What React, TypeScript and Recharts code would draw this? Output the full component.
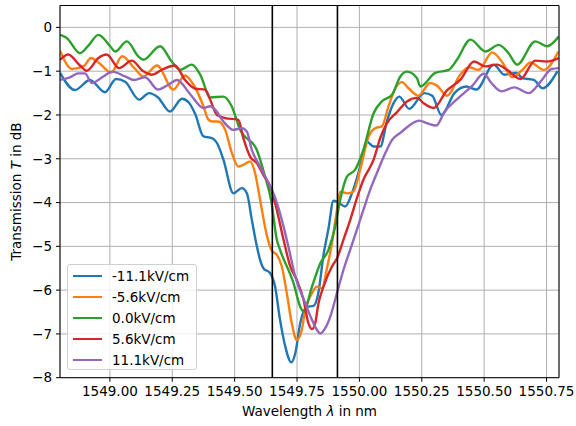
import React from "react"
import {
  LineChart,
  Line,
  XAxis,
  YAxis,
  CartesianGrid,
  ReferenceLine,
  Label,
} from "recharts"

// [wavelength nm, transmission dB]
const fieldNeg111: [number, number][] = [
  [1548.8, -1.04], [1548.86, -1.43], [1548.92, -1.2], [1548.98, -1.48], [1549.025, -1.18],
  [1549.061, -1.24], [1549.117, -1.65], [1549.157, -1.5], [1549.193, -1.6], [1549.241, -1.92],
  [1549.289, -1.63], [1549.317, -1.72], [1549.342, -1.98], [1549.375, -2.49], [1549.409, -2.53],
  [1549.429, -2.64], [1549.455, -3.02], [1549.495, -3.79], [1549.529, -3.67], [1549.549, -3.79],
  [1549.569, -4.4], [1549.589, -5.0], [1549.602, -5.31], [1549.615, -5.5], [1549.642, -5.61],
  [1549.662, -5.92], [1549.682, -6.68], [1549.703, -7.29], [1549.727, -7.65], [1549.743, -7.44],
  [1549.763, -6.75], [1549.79, -6.38], [1549.816, -6.36], [1549.836, -6.05], [1549.856, -5.2],
  [1549.876, -4.6], [1549.896, -3.96], [1549.916, -4.0], [1549.943, -4.09], [1549.97, -3.79],
  [1550.003, -3.18], [1550.03, -2.61], [1550.057, -2.72], [1550.084, -2.72], [1550.11, -2.15],
  [1550.137, -1.73], [1550.16, -1.58], [1550.2, -1.86], [1550.26, -1.5], [1550.292, -1.56],
  [1550.328, -2.0], [1550.381, -1.5], [1550.429, -1.35], [1550.469, -1.42], [1550.538, -0.85],
  [1550.581, -1.08], [1550.629, -1.04], [1550.653, -1.16], [1550.699, -1.2], [1550.734, -1.39],
  [1550.794, -1.0],
]

const fieldNeg56: [number, number][] = [
  [1548.8, -0.53], [1548.848, -0.95], [1548.896, -0.88], [1548.924, -0.7], [1548.954, -0.8],
  [1549.005, -1.03], [1549.049, -0.66], [1549.101, -0.95], [1549.134, -1.12], [1549.189, -0.87],
  [1549.254, -1.42], [1549.301, -1.1], [1549.335, -1.31], [1549.375, -1.8], [1549.394, -2.1],
  [1549.41, -2.15], [1549.435, -2.15], [1549.462, -2.34], [1549.489, -2.87], [1549.515, -3.18],
  [1549.535, -3.14], [1549.562, -3.06], [1549.582, -3.33], [1549.602, -3.94], [1549.629, -4.75],
  [1549.649, -5.1], [1549.67, -5.2], [1549.689, -5.46], [1549.709, -6.07], [1549.729, -6.76],
  [1549.749, -7.14], [1549.769, -6.91], [1549.783, -6.45], [1549.81, -6.07], [1549.83, -5.92],
  [1549.85, -5.96], [1549.87, -5.5], [1549.89, -4.93], [1549.91, -4.17], [1549.923, -3.75],
  [1549.95, -3.79], [1549.976, -3.75], [1550.003, -3.25], [1550.037, -2.49], [1550.064, -2.3],
  [1550.09, -2.26], [1550.117, -1.8], [1550.144, -1.39], [1550.171, -1.25], [1550.197, -1.39],
  [1550.236, -1.56], [1550.284, -1.27], [1550.311, -1.33], [1550.351, -1.56], [1550.404, -1.08],
  [1550.44, -0.91], [1550.477, -0.97], [1550.533, -0.57], [1550.573, -0.8], [1550.613, -1.14],
  [1550.653, -0.97], [1550.685, -0.8], [1550.739, -0.97], [1550.798, -0.55],
]

const fieldZero: [number, number][] = [
  [1548.8, -0.17], [1548.827, -0.24], [1548.88, -0.59], [1548.912, -0.43], [1548.954, -0.17],
  [1549.001, -0.43], [1549.021, -0.55], [1549.068, -0.32], [1549.114, -0.66], [1549.134, -0.74],
  [1549.201, -0.43], [1549.248, -0.78], [1549.281, -0.97], [1549.328, -0.85], [1549.362, -1.08],
  [1549.402, -1.6], [1549.455, -1.58], [1549.488, -1.8], [1549.522, -2.34], [1549.589, -2.8],
  [1549.622, -3.41], [1549.646, -3.94], [1549.669, -4.85], [1549.682, -5.08], [1549.736, -5.84],
  [1549.763, -6.38], [1549.776, -6.49], [1549.81, -5.92], [1549.843, -5.39], [1549.876, -5.08],
  [1549.903, -4.55], [1549.923, -3.94], [1549.95, -3.41], [1549.983, -3.25], [1550.016, -2.8],
  [1550.057, -1.96], [1550.09, -1.69], [1550.131, -1.54], [1550.164, -1.12], [1550.191, -1.01],
  [1550.231, -1.16], [1550.244, -1.35], [1550.304, -1.04], [1550.358, -0.97], [1550.391, -0.74],
  [1550.445, -0.28], [1550.505, -0.55], [1550.558, -0.4], [1550.598, -0.59], [1550.632, -0.85],
  [1550.705, -0.32], [1550.752, -0.43], [1550.799, -0.21],
]

const fieldPos56: [number, number][] = [
  [1548.8, -0.74], [1548.833, -0.62], [1548.88, -0.87], [1548.907, -0.99], [1548.954, -0.7],
  [1548.987, -0.62], [1549.037, -0.93], [1549.088, -0.76], [1549.131, -0.99], [1549.169, -1.08],
  [1549.214, -0.95], [1549.261, -0.87], [1549.301, -1.2], [1549.342, -1.4], [1549.382, -1.42],
  [1549.402, -1.65], [1549.429, -2.0], [1549.462, -2.07], [1549.515, -2.11], [1549.535, -2.53],
  [1549.562, -2.95], [1549.589, -3.1], [1549.615, -3.37], [1549.642, -3.63], [1549.666, -4.1],
  [1549.696, -4.85], [1549.723, -5.46], [1549.749, -5.77], [1549.776, -6.22], [1549.796, -6.76],
  [1549.81, -6.89], [1549.823, -6.75], [1549.836, -6.3], [1549.856, -5.92], [1549.89, -5.46],
  [1549.91, -5.28], [1549.936, -4.85], [1549.963, -4.4], [1549.99, -3.9], [1550.016, -3.48],
  [1550.057, -3.02], [1550.084, -2.52], [1550.11, -2.19], [1550.15, -1.94], [1550.191, -1.69],
  [1550.231, -1.61], [1550.257, -1.73], [1550.297, -1.84], [1550.351, -1.44], [1550.404, -1.2],
  [1550.46, -0.78], [1550.505, -0.89], [1550.552, -0.85], [1550.592, -0.97], [1550.645, -1.18],
  [1550.705, -0.76], [1550.752, -0.78], [1550.799, -0.7],
]

const fieldPos111: [number, number][] = [
  [1548.8, -1.2], [1548.84, -1.14], [1548.873, -1.05], [1548.9, -1.05], [1548.928, -1.27],
  [1548.974, -1.12], [1549.009, -1.01], [1549.061, -1.12], [1549.097, -1.2], [1549.141, -1.14],
  [1549.193, -1.42], [1549.234, -1.31], [1549.269, -1.2], [1549.321, -1.52], [1549.375, -1.84],
  [1549.402, -1.8], [1549.422, -1.88], [1549.455, -2.15], [1549.495, -2.34], [1549.529, -2.3],
  [1549.549, -2.38], [1549.569, -2.8], [1549.602, -3.18], [1549.629, -3.48], [1549.649, -3.71],
  [1549.669, -4.0], [1549.696, -4.55], [1549.715, -5.0], [1549.743, -5.69], [1549.783, -6.3],
  [1549.81, -6.68], [1549.83, -6.91], [1549.843, -6.99], [1549.863, -6.87], [1549.883, -6.61],
  [1549.91, -6.07], [1549.936, -5.54], [1549.963, -5.08], [1549.991, -4.6], [1550.016, -4.17],
  [1550.043, -3.71], [1550.07, -3.33], [1550.104, -2.87], [1550.131, -2.57], [1550.164, -2.41],
  [1550.2, -2.24], [1550.24, -2.13], [1550.272, -2.19], [1550.308, -2.24], [1550.341, -1.93],
  [1550.393, -1.63], [1550.453, -1.33], [1550.498, -1.06], [1550.529, -1.27], [1550.569, -1.46],
  [1550.621, -1.37], [1550.679, -1.5], [1550.726, -1.24], [1550.77, -0.95], [1550.799, -0.93],
]

const seriesNames = ["-11.1kV/cm", "-5.6kV/cm", "0.0kV/cm", "5.6kV/cm", "11.1kV/cm"]
const seriesColors = ["#1f77b4", "#ff7f0e", "#2ca02c", "#d62728", "#9467bd"]
const seriesData = [fieldNeg111, fieldNeg56, fieldZero, fieldPos56, fieldPos111]

const xTicks = [1549, 1549.25, 1549.5, 1549.75, 1550, 1550.25, 1550.5, 1550.75]
const yTicks = [-8, -7, -6, -5, -4, -3, -2, -1, 0]
const markerLines = [1549.651, 1549.912]

const FONT = "DejaVu Sans, sans-serif"

const fmtY = (v: number) => (v < 0 ? "\u2212" + Math.abs(v) : String(v))

export default function App() {
  return (
    <div style={{ position: "absolute", left: 0, top: 0, width: 576, height: 426, background: "#fff" }}>
      <LineChart width={576} height={426} margin={{ top: 5.5, right: 17, bottom: 0, left: 0 }}>
        <CartesianGrid stroke="#b0b0b0" strokeWidth={1} />
        <XAxis
          type="number"
          dataKey="x"
          domain={[1548.8, 1550.8]}
          ticks={xTicks}
          allowDataOverflow
          tickFormatter={(v: number) => v.toFixed(2)}
          height={48.3}
          tickSize={4}
          tickMargin={5}
          stroke="#000"
          tick={{ fill: "#000", fontSize: 13.5, fontFamily: FONT }}
        >
          <Label
            content={() => (
              <text x={309.5} y={416} textAnchor="middle" fontFamily={FONT} fontSize={13.5} fill="#000">
                Wavelength <tspan fontStyle="italic">λ</tspan> in nm
              </text>
            )}
          />
        </XAxis>
        <YAxis
          type="number"
          domain={[-8, 0.5]}
          ticks={yTicks}
          allowDataOverflow
          tickFormatter={fmtY}
          width={60}
          tickSize={4}
          tickMargin={4}
          stroke="#000"
          tick={{ fill: "#000", fontSize: 13.5, fontFamily: FONT }}
        >
          <Label
            content={() => (
              <text
                x={16.5}
                y={191.6}
                textAnchor="middle"
                dominantBaseline="central"
                transform="rotate(-90, 16.5, 191.6)"
                fontFamily={FONT}
                fontSize={13.5}
                fill="#000"
              >
                Transmission <tspan fontStyle="italic">T</tspan> in dB
              </text>
            )}
          />
        </YAxis>
        {seriesData.map((pts, i) => (
          <Line
            key={seriesNames[i]}
            data={pts.map(([x, y]) => ({ x, y }))}
            dataKey="y"
            type="monotone"
            stroke={seriesColors[i]}
            strokeWidth={2.4}
            strokeLinejoin="round"
            dot={false}
            isAnimationActive={false}
          />
        ))}
        {markerLines.map((x) => (
          <ReferenceLine key={x} x={x} stroke="#000" strokeWidth={1.6} />
        ))}
        <ReferenceLine y={0.5} stroke="#000" strokeWidth={1} />
        <ReferenceLine x={1550.8} stroke="#000" strokeWidth={1} />
      </LineChart>
      <div
        style={{
          position: "absolute",
          left: 67,
          top: 264,
          width: 130,
          height: 106,
          boxSizing: "border-box",
          border: "1px solid #d0d0d0",
          borderRadius: 3,
          background: "rgba(255,255,255,0.8)",
          fontFamily: FONT,
          fontSize: 13.5,
          paddingTop: 1,
        }}
      >
        {seriesNames.map((name, i) => (
          <div key={name} style={{ display: "flex", alignItems: "center", height: 20.8 }}>
            <span
              style={{ display: "inline-block", marginLeft: 5, width: 29, height: 2, background: seriesColors[i] }}
            />
            <span style={{ marginLeft: 10, lineHeight: "20px" }}>{name}</span>
          </div>
        ))}
      </div>
    </div>
  )
}
